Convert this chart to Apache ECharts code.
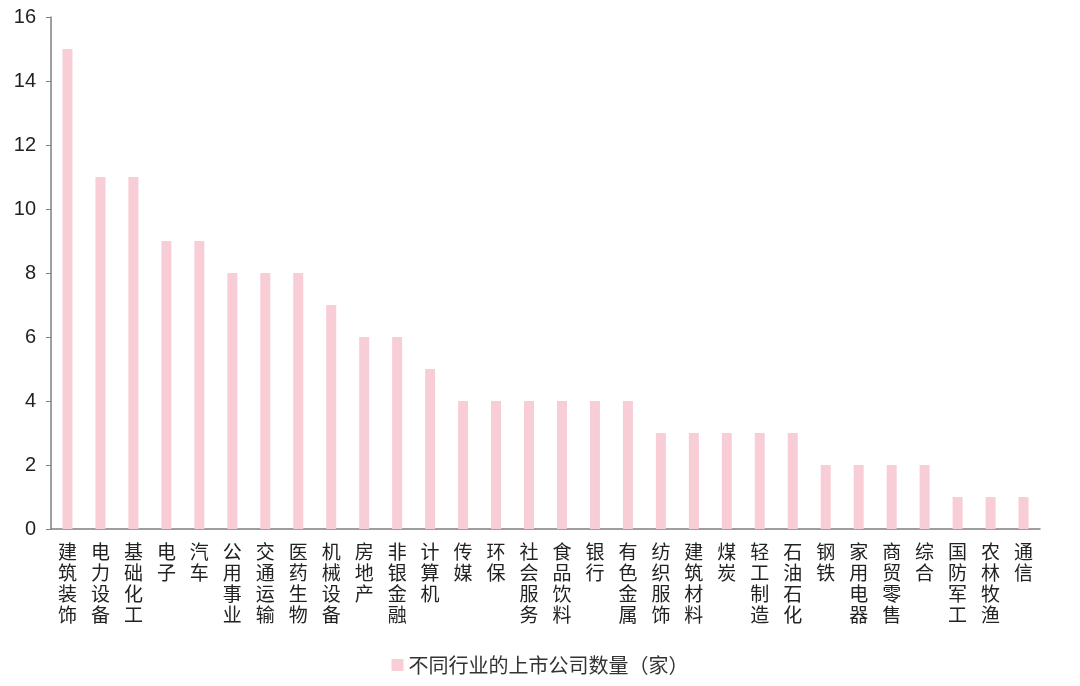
<!DOCTYPE html>
<html><head><meta charset="utf-8">
<script src="https://cdn.jsdelivr.net/npm/echarts@6/dist/echarts.min.js"></script>
<style>html,body{margin:0;padding:0;background:#fff}#c{width:1080px;height:686px}</style>
</head><body><div id="c"></div>
<script>
const categories = ['建筑装饰','电力设备','基础化工','电子','汽车','公用事业','交通运输','医药生物','机械设备','房地产','非银金融','计算机','传媒','环保','社会服务','食品饮料','银行','有色金属','纺织服饰','建筑材料','煤炭','轻工制造','石油石化','钢铁','家用电器','商贸零售','综合','国防军工','农林牧渔','通信'];
const values = [15,11,11,9,9,8,8,8,7,6,6,5,4,4,4,4,4,4,3,3,3,3,3,2,2,2,2,1,1,1];
const seriesName = '不同行业的上市公司数量（家）';
const yTicks = {min:0, max:16, interval:2};

const chart = echarts.init(document.getElementById('c'));
const font = '"Noto Sans CJK SC","Noto Sans",sans-serif';
chart.setOption({
  animation:false,
  textStyle:{fontFamily:font},
  grid:{left:51,right:40,top:17,bottom:157,containLabel:false},
  legend:{bottom:6,left:'center',itemWidth:12,itemHeight:12,itemGap:10,
    textStyle:{fontSize:20,color:'#333',fontFamily:font},icon:'rect',data:[seriesName]},
  xAxis:{type:'category',data:categories,
    axisLine:{lineStyle:{color:'#7f7f7f',width:1.5}},
    axisTick:{show:false},
    axisLabel:{interval:0,margin:12,fontSize:19,lineHeight:21,color:'#222',fontFamily:font,
      formatter:v=>v.split('').join('\n')}},
  yAxis:{type:'value',min:yTicks.min,max:yTicks.max,interval:yTicks.interval,
    splitLine:{show:false},
    axisLine:{show:true,lineStyle:{color:'#7f7f7f',width:1.5}},
    axisTick:{show:true,length:5,lineStyle:{color:'#7f7f7f'}},
    axisLabel:{fontSize:20,color:'#222',margin:15,fontFamily:'"Liberation Sans",Arial,sans-serif'}},
  series:[{name:seriesName,type:'bar',data:values,barWidth:10,
    itemStyle:{color:'#f9cdd6'}}]
});
</script></body></html>
